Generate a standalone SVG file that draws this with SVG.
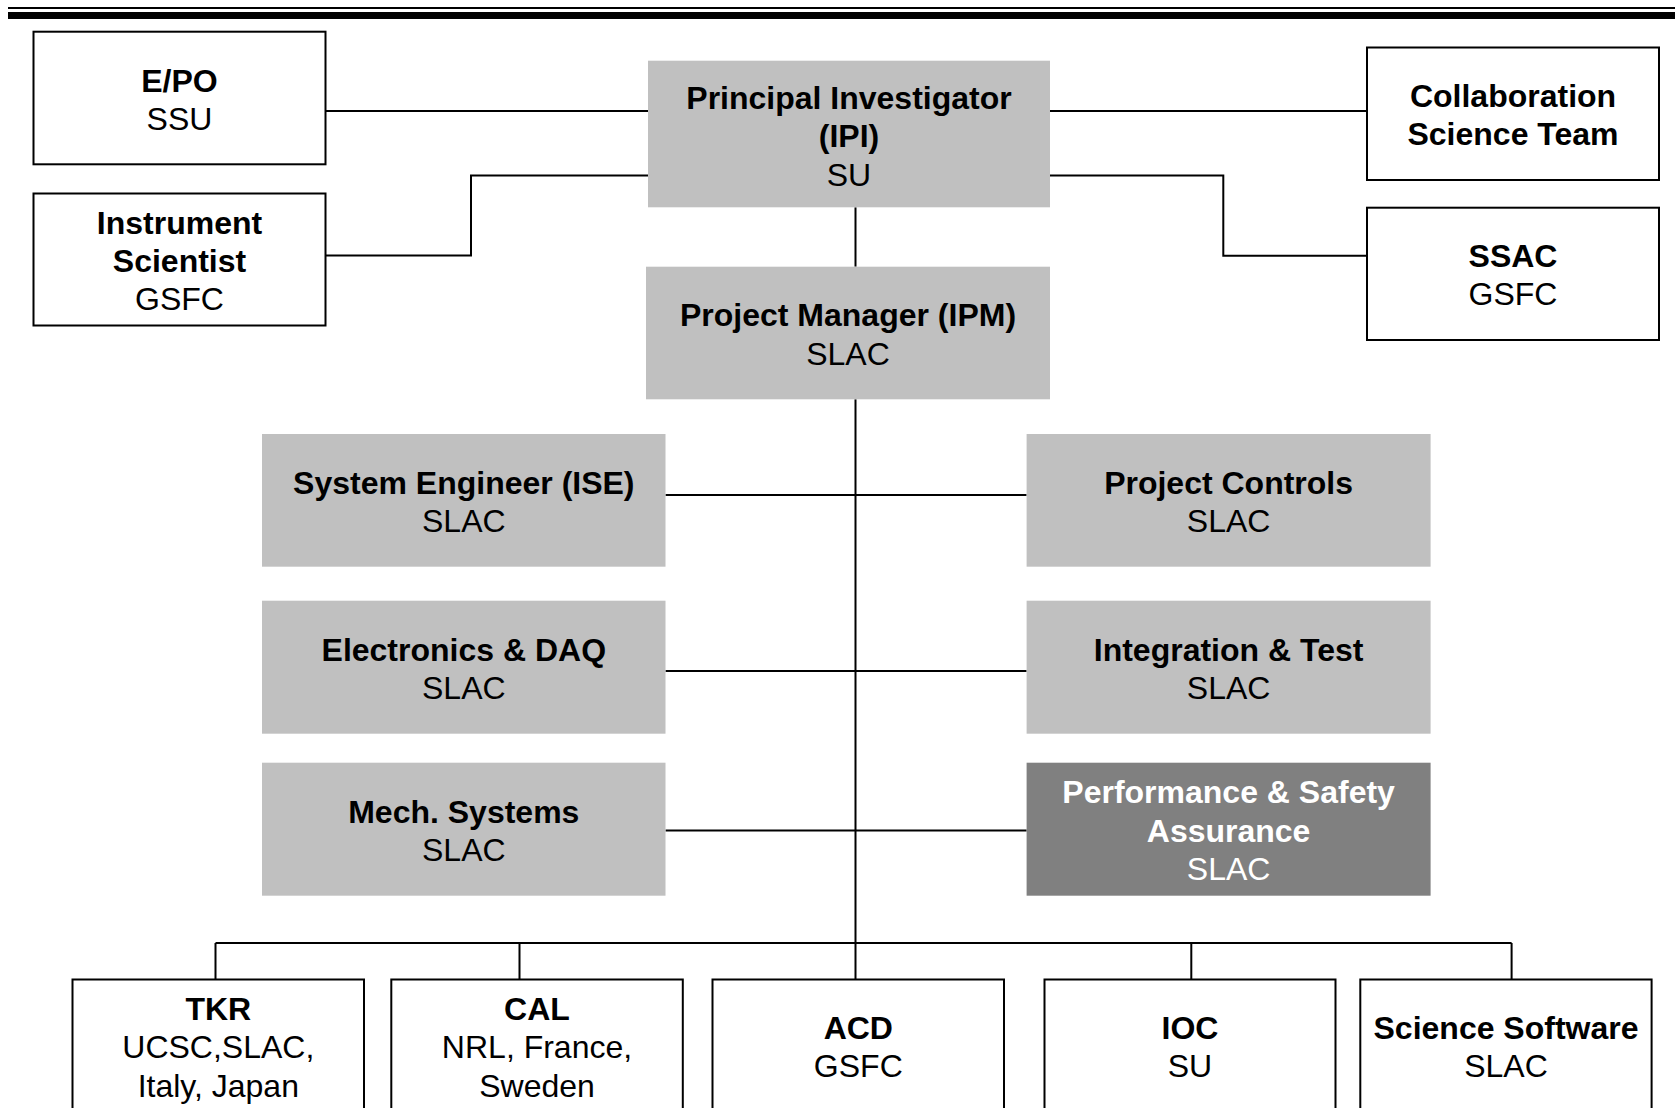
<svg xmlns="http://www.w3.org/2000/svg" width="1675" height="1108" viewBox="0 0 1675 1108">
<style>
.box{fill:#ffffff;stroke:#000000;stroke-width:2}
.g{fill:#c0c0c0}
.d{fill:#808080}
.t{font-family:"Liberation Sans",Arial,sans-serif;font-size:32px;text-anchor:middle;fill:#000000}
.b{font-weight:bold}
.w{fill:#ffffff}
.c{fill:none;stroke:#000000;stroke-width:2}
</style>
<rect x="0" y="0" width="1675" height="1108" fill="#ffffff"/>
<g id="header">
<rect x="8" y="7" width="1667" height="2" fill="#000000"/>
<rect x="8" y="12" width="1667" height="7" fill="#000000"/>
</g>
<g id="connectors">
<path class="c" d="M325.7 111H648"/>
<path class="c" d="M325.7 255.5H471V175.5H648"/>
<path class="c" d="M1050 111H1366.7"/>
<path class="c" d="M1050 175.5H1223.3V255.7H1366.7"/>
<path class="c" d="M855.5 207.3V266.7"/>
<path class="c" d="M855.5 399.3V943"/>
<path class="c" d="M665.5 495H1026.6"/>
<path class="c" d="M665.5 671H1026.6"/>
<path class="c" d="M665.5 830.5H1026.6"/>
<path class="c" d="M215.5 943H1511.6"/>
<path class="c" d="M215.5 943V979.5M519.5 943V979.5M855.5 943V979.5M1191.3 943V979.5M1511.6 943V979.5"/>
</g>
<g id="epo">
<rect class="box" x="33.5" y="31.7" width="292" height="132.6"/>
<text class="t" x="179.5" y="92"><tspan class="b">E/PO</tspan><tspan x="179.5" dy="38.4">SSU</tspan></text>
</g>
<g id="instrument-scientist">
<rect class="box" x="33.5" y="193.5" width="292" height="132"/>
<text class="t" x="179.5" y="233.6"><tspan class="b">Instrument</tspan><tspan class="b" x="179.5" dy="38.4">Scientist</tspan><tspan x="179.5" dy="38.4">GSFC</tspan></text>
</g>
<g id="principal-investigator">
<rect class="g" x="648" y="60.7" width="402" height="146.6"/>
<text class="t" x="849" y="108.8"><tspan class="b">Principal Investigator</tspan><tspan class="b" x="849" dy="38.4">(IPI)</tspan><tspan x="849" dy="38.4">SU</tspan></text>
</g>
<g id="collaboration">
<rect class="box" x="1367" y="47.5" width="292" height="132.5"/>
<text class="t b" x="1513" y="107"><tspan>Collaboration</tspan><tspan x="1513" dy="38.4">Science Team</tspan></text>
</g>
<g id="ssac">
<rect class="box" x="1367" y="207.7" width="292" height="132.3"/>
<text class="t" x="1513" y="267"><tspan class="b">SSAC</tspan><tspan x="1513" dy="38.4">GSFC</tspan></text>
</g>
<g id="project-manager">
<rect class="g" x="646" y="266.7" width="404" height="132.6"/>
<text class="t" x="848" y="326.3"><tspan class="b">Project Manager (IPM)</tspan><tspan x="848" dy="38.4">SLAC</tspan></text>
</g>
<g id="system-engineer">
<rect class="g" x="262" y="434" width="403.5" height="132.7"/>
<text class="t" x="463.8" y="493.8"><tspan class="b">System Engineer (ISE)</tspan><tspan x="463.8" dy="38.4">SLAC</tspan></text>
</g>
<g id="project-controls">
<rect class="g" x="1026.6" y="434" width="404" height="132.7"/>
<text class="t" x="1228.6" y="493.8"><tspan class="b">Project Controls</tspan><tspan x="1228.6" dy="38.4">SLAC</tspan></text>
</g>
<g id="electronics">
<rect class="g" x="262" y="600.7" width="403.5" height="133"/>
<text class="t" x="463.8" y="660.7"><tspan class="b">Electronics &amp; DAQ</tspan><tspan x="463.8" dy="38.4">SLAC</tspan></text>
</g>
<g id="integration-test">
<rect class="g" x="1026.6" y="600.7" width="404" height="133"/>
<text class="t" x="1228.6" y="660.7"><tspan class="b">Integration &amp; Test</tspan><tspan x="1228.6" dy="38.4">SLAC</tspan></text>
</g>
<g id="mech-systems">
<rect class="g" x="262" y="762.7" width="403.5" height="133"/>
<text class="t" x="463.8" y="822.7"><tspan class="b">Mech. Systems</tspan><tspan x="463.8" dy="38.4">SLAC</tspan></text>
</g>
<g id="performance-safety">
<rect class="d" x="1026.6" y="762.7" width="404" height="133"/>
<text class="t w" x="1228.6" y="803.3"><tspan class="b">Performance &amp; Safety</tspan><tspan class="b" x="1228.6" dy="38.4">Assurance</tspan><tspan x="1228.6" dy="38.4">SLAC</tspan></text>
</g>
<g id="tkr">
<rect class="box" x="72.5" y="979.5" width="291.5" height="132"/>
<text class="t" x="218.3" y="1020"><tspan class="b">TKR</tspan><tspan x="218.3" dy="38.4">UCSC,SLAC,</tspan><tspan x="218.3" dy="38.4">Italy, Japan</tspan></text>
</g>
<g id="cal">
<rect class="box" x="391.3" y="979.5" width="291.5" height="132"/>
<text class="t" x="537" y="1020"><tspan class="b">CAL</tspan><tspan x="537" dy="38.4">NRL, France,</tspan><tspan x="537" dy="38.4">Sweden</tspan></text>
</g>
<g id="acd">
<rect class="box" x="712.5" y="979.5" width="291.5" height="132"/>
<text class="t" x="858.3" y="1039"><tspan class="b">ACD</tspan><tspan x="858.3" dy="38.4">GSFC</tspan></text>
</g>
<g id="ioc">
<rect class="box" x="1044.5" y="979.5" width="291" height="132"/>
<text class="t" x="1190" y="1039"><tspan class="b">IOC</tspan><tspan x="1190" dy="38.4">SU</tspan></text>
</g>
<g id="science-software">
<rect class="box" x="1360.3" y="979.5" width="291.3" height="132"/>
<text class="t" x="1506" y="1039"><tspan class="b">Science Software</tspan><tspan x="1506" dy="38.4">SLAC</tspan></text>
</g>
</svg>
